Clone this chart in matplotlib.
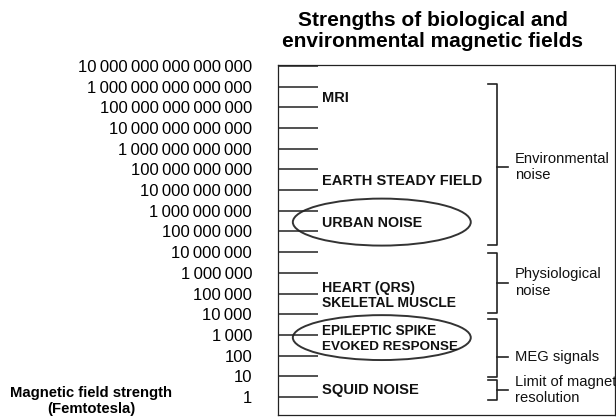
import matplotlib
matplotlib.use("Agg")
import matplotlib.pyplot as plt
from matplotlib.patches import Ellipse

plt.rcParams['font.family'] = ['Liberation Sans', 'DejaVu Sans']

# decades of field strength (fT), 10^0 .. 10^16
exponents = list(range(0, 17))
tick_labels = ["{:,}".format(10 ** e).replace(",", "\u2009") for e in exponents]

# sources: (label, level in decades)
sources = ["MRI", "EARTH STEADY FIELD", "URBAN NOISE", "HEART (QRS)",
           "SKELETAL MUSCLE", "EPILEPTIC SPIKE", "EVOKED RESPONSE", "SQUID NOISE"]
source_levels = [14.44, 10.43, 8.4, 5.27, 4.54, 3.19, 2.42, 0.34]
source_sizes = [10.5, 10.5, 10.3, 10.2, 10, 9.8, 9.7, 10.6]

# circled ranges: (center decade, height in decades)
circle_centers = [8.45, 2.87]
circle_heights = [2.27, 2.17]

# groups: bracket top, bottom, middle (decades) and label
groups = ["Environmental\nnoise", "Physiological\nnoise", "MEG signals",
          "Limit of magnet\nresolution"]
group_top = [15.1, 6.96, 3.77, 0.82]
group_bottom = [7.34, 4.06, 0.97, -0.14]
group_mid = [11.1, 5.5, 1.93, 0.34]
group_text_y = [11.1, 5.53, 1.93, 0.34]

fig = plt.figure(figsize=(6.16, 4.18), dpi=100)
ax = fig.add_axes([278 / 616, 1 - 415 / 418, 337 / 616, 350 / 418])
ax.set_xlim(0, 1)
ax.set_ylim(-0.87, 16.04)

for s in ax.spines.values():
    s.set_linewidth(0.9)
    s.set_color("#222222")

ax.set_xticks([])
ax.set_yticks(exponents)
ax.set_yticklabels(tick_labels, fontsize=12)
ax.tick_params(axis='y', direction='in', length=28.8, width=1.1,
               color="#222222", pad=18.7)

for name, lev, fs in zip(sources, source_levels, source_sizes):
    ax.text(0.13, lev, name, fontsize=fs, fontweight='bold',
            va='center', ha='left', color="#111111")

for c, h in zip(circle_centers, circle_heights):
    ax.add_patch(Ellipse((0.308, c), 0.528, h, fill=False,
                         lw=1.4, ec="#333333"))

for name, top, bot, mid, ty in zip(groups, group_top, group_bottom,
                                   group_mid, group_text_y):
    ax.plot([0.623, 0.649, 0.649, 0.623], [top, top, bot, bot],
            color="#222222", lw=1.2)
    ax.plot([0.649, 0.683], [mid, mid], color="#222222", lw=1.2)
    ax.text(0.703, ty, name, fontsize=10.6, va='center', ha='left',
            linespacing=1.2, color="#111111")

fig.text(433 / 616, 1 - 31 / 418,
         "Strengths of biological and\nenvironmental magnetic fields",
         fontsize=15, fontweight='bold', ha='center', va='center',
         linespacing=1.12)
fig.text(91 / 616, 1 - 401 / 418, "Magnetic field strength\n(Femtotesla)",
         fontsize=10.7, fontweight='bold', ha='center', va='center',
         linespacing=1.1)

fig.savefig("out.png", dpi=100)
